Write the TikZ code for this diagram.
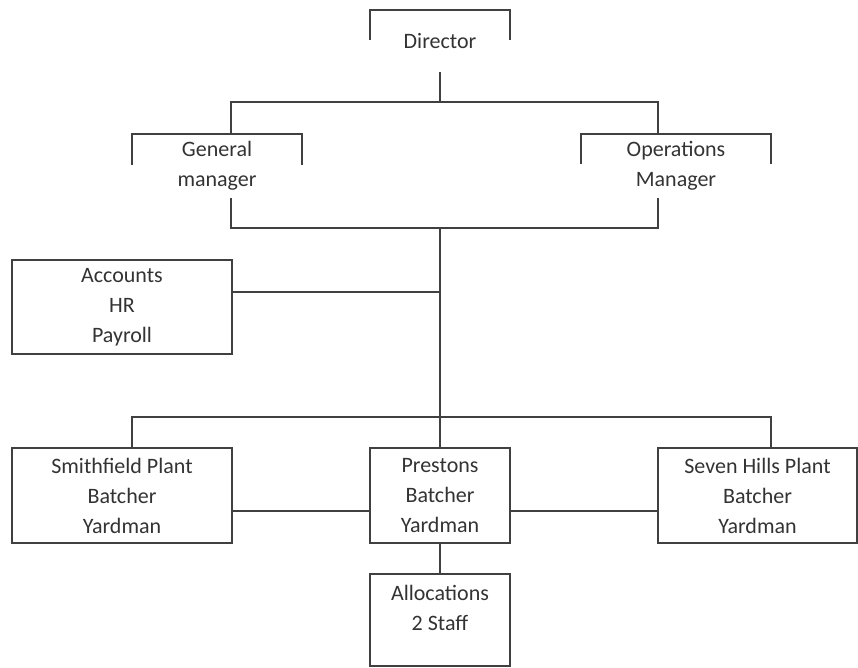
\documentclass[tikz,border=0pt]{standalone}
\usepackage{fontspec}
\setmainfont{Carlito}
\tikzset{
  unit/.style={draw=black!75, line width=1.5pt, text=black!80, align=center, inner sep=0pt},
  headunit/.style={text=black!80, align=center, inner sep=0pt},
  link/.style={draw=black!75, line width=1.5pt}
}
\begin{document}
\begin{tikzpicture}[x=1pt, y=-1pt, font=\fontsize{22}{30}\selectfont]
			\useasboundingbox (0,0) rectangle (858,668);

			% Define the open (bracket) heads
			\node[headunit, minimum width=140pt, minimum height=62pt] (dir) at (440, 41) {Director};
			\node[headunit, minimum width=170pt, minimum height=64pt] (gm) at (217, 166) {General\\manager};
			\node[headunit, minimum width=190pt, minimum height=64pt] (om) at (676, 166) {Operations\\Manager};

			% Define boxed units
			\node[unit, minimum width=220pt, minimum height=94pt] (acc) at (122, 307) {Accounts\\HR\\Payroll};
			\node[unit, minimum width=220pt, minimum height=95pt] (smith) at (122, 495.5) {Smithfield Plant\\Batcher\\Yardman};
			\node[unit, minimum width=140pt, minimum height=95pt] (pres) at (440, 495.5) {Prestons\\Batcher\\Yardman};
			\node[unit, minimum width=199pt, minimum height=95pt] (seven) at (757.5, 495.5) {Seven Hills Plant\\Batcher\\Yardman};
			\node[unit, minimum width=140pt, minimum height=92pt] (alloc) at (440, 620) {};
			\node[headunit] (alloctext) at (440, 608) {Allocations\\2 Staff};

			% Junctions
			\coordinate (j1) at (440, 102);
			\coordinate (j2) at (440, 228);
			\coordinate (j3) at (440, 417);

			% Draw bracket tops
			\draw[link] (dir.north west) ++(0,30) |- (dir.north east) -- ++(0,30);
			\draw[link] (gm.north west) ++(0,31) |- (gm.north east) -- ++(0,31);
			\draw[link] (om.north west) ++(0,30) |- (om.north east) -- ++(0,30);

			% Draw connectors
			\draw[link] (dir.south) -- (j1);
			\draw[link] ([xshift=14pt]gm.north) |- (j1) -| ([xshift=-18pt]om.north);
			\draw[link] ([xshift=14pt]gm.south) |- (j2) -| ([xshift=-18pt]om.south);
			\draw[link] (j2) -- (pres.north);
			\draw[link] ([yshift=15pt]acc.east) -- ([yshift=15pt]acc.east -| j2);
			\draw[link] ([xshift=10pt]smith.north) |- (j3) -| ([xshift=13.5pt]seven.north);
			\draw[link] ([yshift=-15.5pt]smith.east) -- ([yshift=-15.5pt]pres.west);
			\draw[link] ([yshift=-15.5pt]pres.east) -- ([yshift=-15.5pt]seven.west);
			\draw[link] (pres.south) -- (alloc.north);

		\end{tikzpicture}
\end{document}
